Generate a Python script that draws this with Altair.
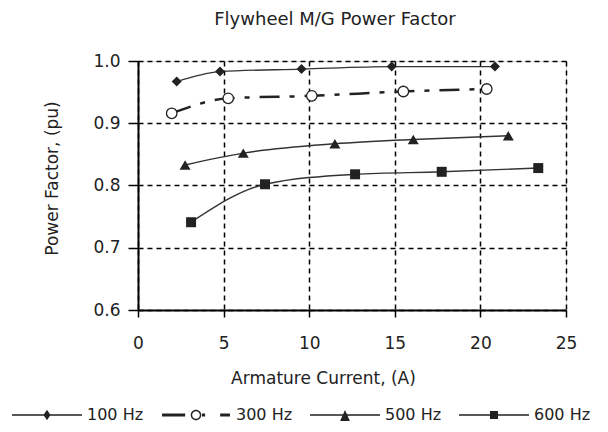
import altair as alt
import pandas as pd

# ---- data ----
series_names = ["100 Hz", "300 Hz", "500 Hz", "600 Hz"]
x100 = [2.26, 4.79, 9.55, 14.82, 20.85]
y100 = [0.967, 0.983, 0.987, 0.991, 0.991]
x300 = [1.97, 5.27, 10.15, 15.5, 20.37]
y300 = [0.916, 0.940, 0.944, 0.951, 0.955]
x500 = [2.75, 6.15, 11.5, 16.08, 21.63]
y500 = [0.833, 0.852, 0.867, 0.874, 0.880]
x600 = [3.10, 7.42, 12.68, 17.74, 23.38]
y600 = [0.741, 0.802, 0.818, 0.822, 0.828]
x_ticks = [0, 5, 10, 15, 20, 25]
y_ticks = [0.6, 0.7, 0.8, 0.9, 1.0]

rows = []
for name, xs, ys in zip(series_names, [x100, x300, x500, x600], [y100, y300, y500, y600]):
    for xv, yv in zip(xs, ys):
        rows.append({"series": name, "x": xv, "y": yv})
df = pd.DataFrame(rows)

INK = "#222222"
FONT = "DejaVu Sans"

x_enc = alt.X("x:Q", scale=alt.Scale(domain=[0, 25], nice=False, zero=False),
              axis=alt.Axis(values=x_ticks, format="d", title="Armature Current, (A)",
                            grid=True, gridDash=[5, 4], gridColor="black", gridWidth=1.5,
                            domainColor="black", domainWidth=2, tickColor="black", tickWidth=1.5,
                            tickSize=7, labelPadding=31, labelBaseline="alphabetic",
                            labelFlush=False, labelFont=FONT, labelFontSize=17, labelColor=INK,
                            titleFont=FONT, titleFontSize=17, titleFontWeight="normal", titleColor=INK,
                            titleX=185, titleY=73, titleBaseline="alphabetic", titleAlign="center"))
y_enc = alt.Y("y:Q", scale=alt.Scale(domain=[0.6, 1.0], nice=False, zero=False),
              axis=alt.Axis(values=y_ticks, format=".1f", title="Power Factor, (pu)",
                            grid=True, gridDash=[5, 4], gridColor="black", gridWidth=1.5,
                            domainColor="black", domainWidth=2, tickColor="black", tickWidth=1.5,
                            tickSize=10, labelPadding=8, labelFlush=False,
                            labelFont=FONT, labelFontSize=17, labelColor=INK,
                            titleFont=FONT, titleFontSize=17, titleFontWeight="normal", titleColor=INK,
                            titleAngle=270, titleX=-81, titleY=117, titleBaseline="alphabetic",
                            titleAlign="center"))

base = alt.Chart(df)

solid_lines = base.transform_filter(alt.datum.series != "300 Hz").mark_line(
    interpolate="monotone", color="#333333", strokeWidth=1.4
).encode(x=x_enc, y=y_enc, detail="series:N")

dash_line = base.transform_filter(alt.datum.series == "300 Hz").mark_line(
    interpolate="monotone", color="#222222", strokeWidth=2.5, strokeDash=[20, 10, 5, 10]
).encode(x=x_enc, y=y_enc)

m100 = base.transform_filter(alt.datum.series == "100 Hz").mark_point(
    shape="diamond", filled=True, size=100, color=INK, opacity=1).encode(x=x_enc, y=y_enc)
m300 = base.transform_filter(alt.datum.series == "300 Hz").mark_point(
    shape="circle", filled=True, size=110, fill="white", stroke=INK, strokeWidth=1.3,
    opacity=1).encode(x=x_enc, y=y_enc)
m500 = base.transform_filter(alt.datum.series == "500 Hz").mark_point(
    shape="triangle-up", filled=True, size=120, color=INK, opacity=1).encode(x=x_enc, y=y_enc)
m600 = base.transform_filter(alt.datum.series == "600 Hz").mark_point(
    shape="square", filled=True, size=100, color=INK, opacity=1).encode(x=x_enc, y=y_enc)

# legend symbols: line + marker drawn as filled paths (unit box scaled by sqrt(size)/2)
thin = "M-1,-0.022H1V0.022H-1Z"
leg_paths = [
    thin + "M0,-0.15L0.1,0L0,0.15L-0.1,0Z",
    "M-0.97,-0.043H-0.31V0.043H-0.97Z"
    "M0.17,-0.043H0.26V0.043H0.17Z"
    "M0.69,-0.043H0.97V0.043H0.69Z"
    "M0.15,0A0.15,0.15 0 1 1 -0.15,0A0.15,0.15 0 1 1 0.15,0Z"
    "M0.11,0A0.11,0.11 0 1 0 -0.11,0A0.11,0.11 0 1 0 0.11,0Z",
    thin + "M0,-0.14L0.14,0.17L-0.14,0.17Z",
    thin + "M-0.115,-0.115H0.115V0.115H-0.115Z",
]

legend_layer = base.transform_filter("false").mark_point(
    filled=True, color=INK, opacity=1
).encode(
    x=x_enc, y=y_enc,
    shape=alt.Shape("series:N",
                    scale=alt.Scale(domain=series_names, range=leg_paths),
                    legend=alt.Legend(title=None, orient="none", direction="horizontal",
                                      columns=4, legendX=-126, legendY=319, padding=0,
                                      symbolSize=4900, symbolFillColor=INK,
                                      symbolStrokeWidth=0, symbolOpacity=1,
                                      labelFont=FONT, labelFontSize=16, labelColor=INK,
                                      labelOffset=5, columnPadding=17))
)

chart = alt.layer(
    solid_lines, dash_line, m100, m300, m500, m600, legend_layer
).properties(
    width=428, height=249,
    autosize="none",
    padding={"left": 130, "top": 53, "right": 34, "bottom": 114},
    title=alt.TitleParams("Flywheel M/G Power Factor", font=FONT, fontSize=18,
                          fontWeight="normal", color=INK, anchor="middle",
                          frame="group", orient="top", offset=23, dx=-17),
).configure_view(stroke=None).configure(background="white")

chart.save("out.html", embed_options={"renderer": "svg", "actions": False})
